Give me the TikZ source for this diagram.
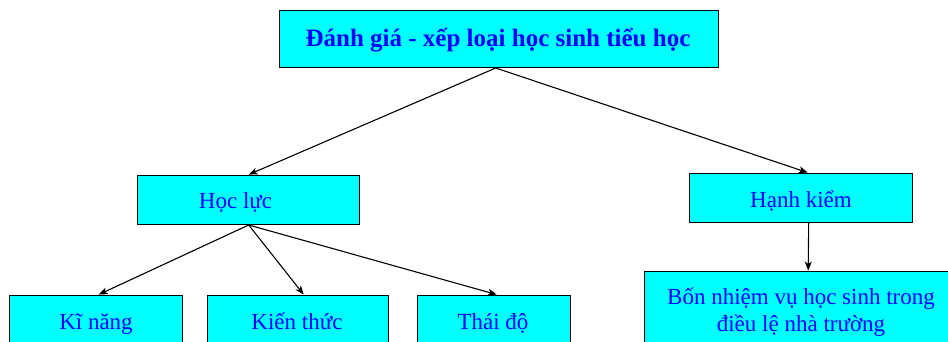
\documentclass[tikz,border=0pt]{standalone}
\usepackage{fontspec}
\setmainfont{Liberation Serif}
\usetikzlibrary{arrows.meta}
\definecolor{boxcyan}{RGB}{0,255,255}
\definecolor{txtblue}{RGB}{0,0,255}
\begin{document}
\begin{tikzpicture}[x=1pt,y=1pt,
  box/.style={draw=black,line width=1.4pt,fill=boxcyan,inner sep=0pt,anchor=south west},
  lbl/.style={text=txtblue,inner sep=0pt,anchor=base,font=\fontsize{23}{27}\selectfont,align=center},
  arr/.style={draw=black,line width=1.1pt,-{Stealth[length=9pt,width=7pt,inset=2.5pt]}}]
\useasboundingbox (0,0) rectangle (948,342);
\begin{scope}
\clip (0,0) rectangle (948,342);
% boxes (south west corner, width, height)
\node[box,minimum width=439pt,minimum height=57pt] (top) at (279,274) {};
\node[box,minimum width=222pt,minimum height=49pt] (hl) at (137,117) {};
\node[box,minimum width=223pt,minimum height=49pt] (hk) at (689,119) {};
\node[box,minimum width=173pt,minimum height=70pt] (kn) at (9,-24) {};
\node[box,minimum width=181pt,minimum height=70pt] (kt) at (207,-24) {};
\node[box,minimum width=153pt,minimum height=70pt] (td) at (417,-24) {};
\node[box,minimum width=314pt,minimum height=100pt] (bn) at (644,-30) {};
% labels
\node[lbl,font=\fontsize{25}{29}\selectfont\bfseries] (ttop) at (498,295) {Đánh giá - xếp loại học sinh tiểu học};
\node[lbl] (thl) at (235.5,133) {Học lực};
\node[lbl] (thk) at (801,134) {Hạnh kiểm};
\node[lbl] (tkn) at (96,12) {Kĩ năng};
\node[lbl] (tkt) at (297,12) {Kiến thức};
\node[lbl] (ttd) at (493,12) {Thái độ};
\node[lbl] (tbn1) at (801,37) {Bốn nhiệm vụ học sinh trong};
\node[lbl] (tbn2) at (801,10) {điều lệ nhà trường};
% connectors
\draw[arr] ([xshift=-3.5pt]top.south) -- (hl.north);
\draw[arr] ([xshift=-3.5pt]top.south) -- ([xshift=6.5pt]hk.north);
\draw[arr] (hl.south) -- ([xshift=2.5pt]kn.north);
\draw[arr] (hl.south) -- ([xshift=5.5pt]kt.north);
\draw[arr] (hl.south) -- ([xshift=2.5pt]td.north);
\draw[arr] ([xshift=7.5pt]hk.south) -- ([xshift=7pt]hk.south |- bn.north);
\end{scope}
\end{tikzpicture}
\end{document}
